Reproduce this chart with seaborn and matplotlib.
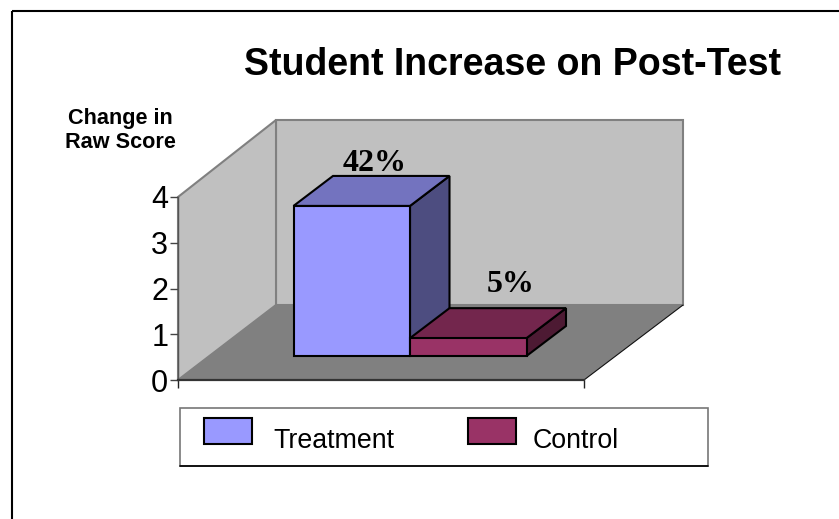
import matplotlib
matplotlib.use("Agg")
import matplotlib.pyplot as plt
from matplotlib.patches import Polygon, Rectangle, Patch
import seaborn as sns
import pandas as pd

groups = ["Treatment", "Control"]
change_in_raw_score = [3.28, 0.39]
percent_labels = ["42%", "5%"]
y_ticks = [0, 1, 2, 3, 4]
title_text = "Student Increase on Post-Test"
y_title_text = "Change in\nRaw Score"

FRONT = ["#9999FF", "#993366"]
TOP = ["#7373BF", "#73264D"]
SIDE = ["#4D4D80", "#4D1A33"]

W, H = 839, 519
sns.set_theme(style="white")
plt.rcParams["font.family"] = ["Liberation Sans", "DejaVu Sans"]

fig = plt.figure(figsize=(W / 100, H / 100), dpi=100, facecolor="white")


def px_axes(x0, y0, x1, y1):
    """Axes spanning pixel box, y measured from the top of the image."""
    return fig.add_axes([x0 / W, 1 - y1 / H, (x1 - x0) / W, (y1 - y0) / H])


# Pixel-space backdrop: frame, walls, floor, legend box, free texts
bg = px_axes(0, 0, W, H)
bg.set_xlim(0, W)
bg.set_ylim(H, 0)
bg.axis("off")
bg.plot([11.5, 11.5], [H, 10.5], color="black", lw=1.5, solid_capstyle="butt")
bg.plot([11.5, W], [10.5, 10.5], color="black", lw=1.5, solid_capstyle="butt")

bg.add_patch(Polygon([(276, 120), (683, 120), (683, 305), (276, 305)],
                     fc="#C0C0C0", ec="#808080", lw=1.5))
bg.add_patch(Polygon([(178, 197), (276, 120), (276, 305), (178, 380)],
                     fc="#C0C0C0", ec="#808080", lw=1.5))
bg.add_patch(Polygon([(178, 380), (276, 305), (683, 305), (584, 380)],
                     fc="#808080", ec="none"))
bg.plot([584, 683], [380, 305], color="#111111", lw=0.8)

bg.add_patch(Rectangle((180, 408), 528, 58, fc="white", ec="#777777", lw=1.2))
bg.plot([180, 708], [466, 466], color="black", lw=1.2)

bg.text(512, 65, title_text, ha="center", va="center", fontsize=27,
        fontweight="bold", color="black")
bg.text(120, 130.5, y_title_text, ha="center", va="center", fontsize=15.6,
        fontweight="bold", color="black", linespacing=1.2)
label_px = [(374.5, 171), (510.5, 292)]
for (lx, ly), s in zip(label_px, percent_labels):
    bg.text(lx, ly, s, ha="center", va="baseline", fontsize=23,
            fontweight="bold", family=["Liberation Serif", "DejaVu Serif"],
            color="black")

# Value axis
val_ax = px_axes(178, 197, 584, 380)
val_ax.patch.set_alpha(0)
val_ax.set_ylim(0, 4)
val_ax.set_xlim(0, 1)
val_ax.set_yticks(y_ticks)
val_ax.set_xticks([0, 1])
val_ax.set_xticklabels(["", ""])
val_ax.tick_params(axis="y", left=True, length=6, width=1, color="#444444",
                   labelsize=22, pad=1, labelcolor="black")
val_ax.tick_params(axis="x", bottom=True, length=6, width=1, color="#222222")
for side in ("top", "right"):
    val_ax.spines[side].set_visible(False)
val_ax.spines["left"].set_color("#555555")
val_ax.spines["left"].set_linewidth(1.0)
val_ax.spines["bottom"].set_color("#333333")
val_ax.spines["bottom"].set_linewidth(1.6)

# Bars: same value scale as the value axis, shifted to the chart's depth plane
bar_ax = px_axes(293.5, 173, 526.5, 356)
bar_ax.patch.set_alpha(0)
df = pd.DataFrame({"group": groups, "score": change_in_raw_score})
sns.barplot(data=df, x="group", y="score", hue="group", order=groups,
            hue_order=groups, palette=FRONT, width=1.0, saturation=1,
            edgecolor="black", linewidth=1.5, legend=False, ax=bar_ax)
bar_ax.set_xlim(-0.5, 1.5)
bar_ax.set_ylim(0, 4)
bar_ax.axis("off")

dx = 39.5 / (233 / 2)   # depth offset, category units
dy = 30 / (183 / 4)     # depth offset, value units
for i, rect in enumerate(bar_ax.patches[:2]):
    x0 = rect.get_x()
    x1 = x0 + rect.get_width()
    h = rect.get_height()
    rect.set_clip_on(False)
    rect.set_zorder(5 + 3 * i)
    bar_ax.add_patch(Polygon([(x1, 0), (x1 + dx, dy), (x1 + dx, h + dy), (x1, h)],
                             fc=SIDE[i], ec="black", lw=1.5, joinstyle="miter",
                             clip_on=False, zorder=3 + 3 * i))
    bar_ax.add_patch(Polygon([(x0, h), (x0 + dx, h + dy), (x1 + dx, h + dy), (x1, h)],
                             fc=TOP[i], ec="black", lw=1.5, joinstyle="miter",
                             clip_on=False, zorder=4 + 3 * i))

# Legend entries, sitting inside the drawn box
handles = [Patch(fc=c, ec="black", lw=1.5) for c in FRONT]
leg = fig.legend(handles, groups, loc="center left",
                 bbox_to_anchor=(203.5 / W, 1 - 440 / H), ncol=2, frameon=False,
                 fontsize=19.3, borderpad=0, borderaxespad=0, handlelength=1.8,
                 handleheight=1.08, handletextpad=0.8, columnspacing=2.58,
                 labelcolor="black")
for k, patch in enumerate(leg.legend_handles):
    patch.set_y(patch.get_y() + 5.7)
    if k == 1:
        patch.set_x(patch.get_x() + 3.0)

fig.savefig("out.png", dpi=100)
